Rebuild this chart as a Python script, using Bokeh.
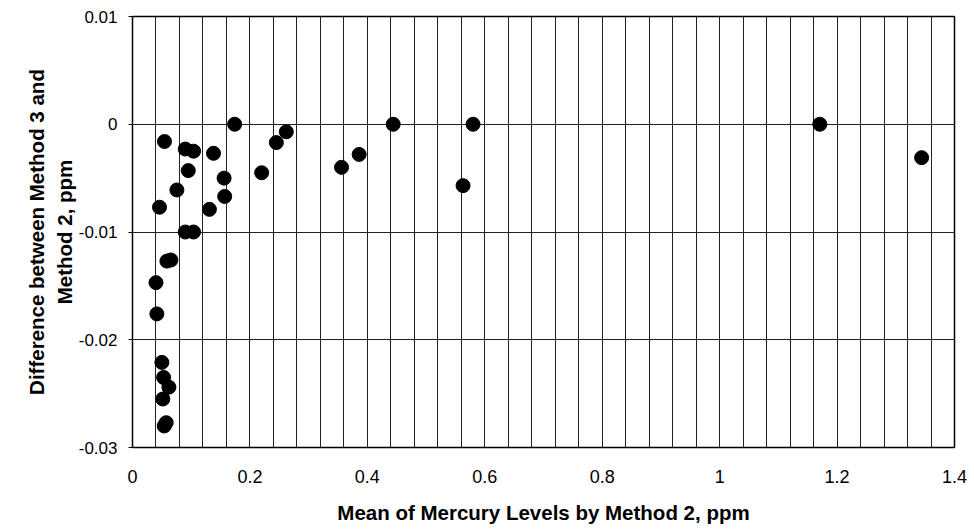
from bokeh.plotting import figure
from bokeh.models import FixedTicker, Range1d
from bokeh.embed import file_html
from bokeh.resources import INLINE

# Mean of mercury levels by Method 2 (ppm)
mean_m2 = [0.0545, 0.0898, 0.104, 0.138, 0.174, 0.095, 0.156, 0.220, 0.245, 0.262,
           0.0756, 0.157, 0.356, 0.386, 0.444, 0.046, 0.131, 0.0898, 0.104,
           0.0586, 0.0654, 0.040, 0.0415, 0.050, 0.053, 0.062, 0.0517, 0.0574, 0.054,
           0.580, 0.563, 1.1706, 1.344]
# Difference between Method 3 and Method 2 (ppm)
diff_m3_m2 = [-0.0016, -0.0023, -0.0025, -0.0027, 0.0, -0.0043, -0.0050, -0.0045, -0.0017, -0.0007,
              -0.0061, -0.0067, -0.0040, -0.0028, 0.0, -0.0077, -0.0079, -0.0100, -0.0100,
              -0.0127, -0.0126, -0.0147, -0.0176, -0.0221, -0.0235, -0.0244, -0.0255, -0.0277, -0.0280,
              0.0, -0.0057, 0.0, -0.0031]

x_ticks = [0, 0.2, 0.4, 0.6, 0.8, 1.0, 1.2, 1.4]
x_tick_labels = ["0", "0.2", "0.4", "0.6", "0.8", "1", "1.2", "1.4"]
y_ticks = [-0.03, -0.02, -0.01, 0.0, 0.01]
y_tick_labels = ["-0.03", "-0.02", "-0.01", "0", "0.01"]
x_grid_step = 0.04

p = figure(width=968, height=528, output_backend="svg", toolbar_location=None,
           x_range=Range1d(0, 1.4), y_range=Range1d(-0.03, 0.01),
           min_border_left=132, min_border_right=14, min_border_top=16, min_border_bottom=81)

p.scatter(mean_m2, diff_m3_m2, size=14, color="black")

minor = [round(i * x_grid_step, 4) for i in range(int(round(1.4 / x_grid_step)) + 1)]
p.xaxis.ticker = FixedTicker(ticks=x_ticks, minor_ticks=minor)
p.xaxis.major_label_overrides = {t: l for t, l in zip(x_ticks, x_tick_labels)}
p.yaxis.ticker = FixedTicker(ticks=y_ticks)
p.yaxis.major_label_overrides = {t: l for t, l in zip(y_ticks, y_tick_labels)}

p.xgrid.grid_line_color = "#222222"
p.xgrid.minor_grid_line_color = "#222222"
p.xgrid.grid_line_width = 1
p.ygrid.grid_line_color = "#222222"

p.outline_line_color = "black"
p.outline_line_width = 1.5

for ax in (p.xaxis, p.yaxis):
    ax.axis_line_color = "black"
    ax.minor_tick_line_color = None
    ax.major_label_text_font = "Liberation Sans"
    ax.major_label_text_color = "black"
    ax.axis_label_text_font = "Liberation Sans"
    ax.axis_label_text_font_style = "bold"
    ax.axis_label_text_color = "black"
    ax.axis_label_text_font_size = "20.5px"

p.xaxis.major_tick_line_color = None
p.xaxis.major_label_text_font_size = "18px"
p.xaxis.major_label_standoff = 16
p.xaxis.axis_label = "Mean of Mercury Levels by Method 2, ppm"
p.xaxis.axis_label_standoff = 15

p.yaxis.major_tick_in = 0
p.yaxis.major_tick_out = 4
p.yaxis.major_label_text_font_size = "17px"
p.yaxis.major_label_standoff = 11
p.yaxis.axis_label = "Difference between Method 3 and\nMethod 2, ppm"
p.yaxis.axis_label_text_align = "center"
p.yaxis.axis_label_standoff = 0

open("out.html", "w").write(file_html(p, INLINE))
